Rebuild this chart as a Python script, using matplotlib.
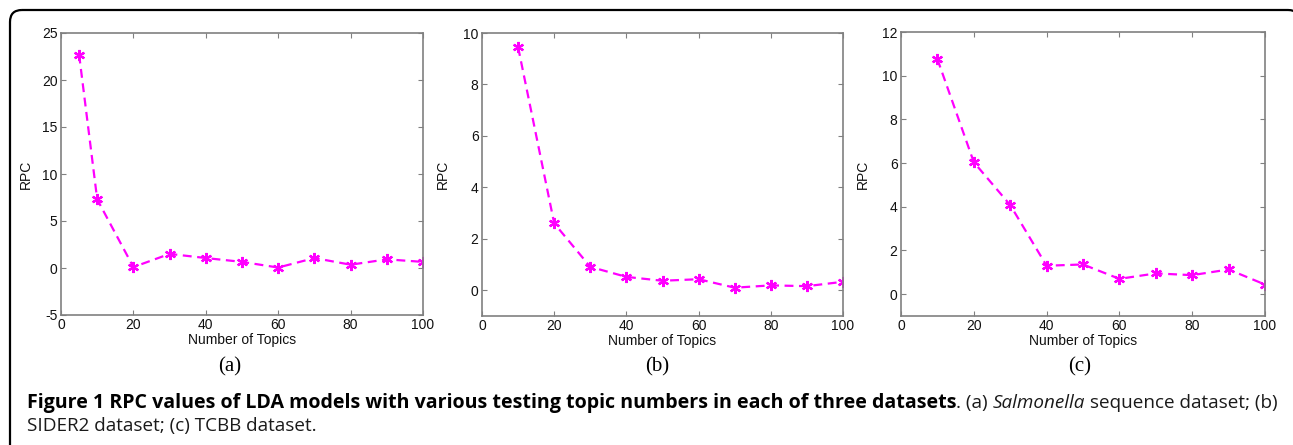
import matplotlib
matplotlib.use("Agg")
import matplotlib.pyplot as plt
from matplotlib.patches import FancyBboxPatch
from matplotlib.transforms import Affine2D

# ---- data ----
topics_a = [5, 10, 20, 30, 40, 50, 60, 70, 80, 90, 100]
rpc_a = [22.7, 7.3, 0.1, 1.5, 1.06, 0.65, 0.05, 1.06, 0.35, 0.92, 0.65]

topics_b = [10, 20, 30, 40, 50, 60, 70, 80, 90, 100]
rpc_b = [9.45, 2.6, 0.91, 0.52, 0.37, 0.43, 0.1, 0.19, 0.16, 0.33]

topics_c = [10, 20, 30, 40, 50, 60, 70, 80, 90, 100]
rpc_c = [10.76, 6.04, 4.08, 1.3, 1.36, 0.7, 0.95, 0.87, 1.13, 0.44]

xticks = [0, 20, 40, 60, 80, 100]
yticks_a = [-5, 0, 5, 10, 15, 20, 25]
yticks_b = [0, 2, 4, 6, 8, 10]
yticks_c = [0, 2, 4, 6, 8, 10, 12]
panel_labels = ["(a)", "(b)", "(c)"]

W, H = 1293, 445
fig = plt.figure(figsize=(W / 100, H / 100), dpi=100)
fig.patch.set_facecolor("white")

# pixel coordinate transform (origin top-left)
pix = Affine2D().scale(1, -1).translate(0, H).scale(1 / W, 1 / H) + fig.transFigure

def px(x0, y0, x1, y1):
    return [x0 / W, 1 - y1 / H, (x1 - x0) / W, (y1 - y0) / H]

panels = [
    (px(61, 33, 423, 315), topics_a, rpc_a, yticks_a, (-5, 25), 33),
    (px(482, 33, 843, 316), topics_b, rpc_b, yticks_b, (-1, 10), 450),
    (px(901, 32, 1265, 316), topics_c, rpc_c, yticks_c, (-1, 12), 870),
]
label_x = [230, 657, 1080]

font = "Liberation Sans"
for i, (rect, xs, ys, yt, ylim, ylab_x) in enumerate(panels):
    ax = fig.add_axes(rect)
    ax.plot(xs, ys, linestyle="--", color="#ff00ff", linewidth=1.6,
            dashes=(4, 2.5))
    ax.plot(xs, ys, linestyle="none", color="#ff00ff",
            marker=(6, 2, 0), markersize=8, markeredgewidth=1.6)
    ax.set_xlim(0, 100)
    ax.set_ylim(*ylim)
    ax.set_xticks(xticks)
    ax.set_yticks(yt)
    ax.set_xticklabels([str(t) for t in xticks], fontfamily=font, fontsize=10)
    ax.set_yticklabels([str(t) for t in yt], fontfamily=font, fontsize=10)
    ax.tick_params(direction="in", length=3.5, width=0.8, color="#808080",
                   top=True, right=True, pad=2.5, labelcolor="#111111")
    for s in ax.spines.values():
        s.set_color("#808080")
        s.set_linewidth(1.2)
    ax.set_xlabel("Number of Topics", fontfamily=font, fontsize=10, labelpad=0.5,
                  color="#111111")
    ax.set_ylabel("RPC", fontfamily=font, fontsize=10, color="#111111")
    ax.yaxis.set_label_coords((ylab_x - rect[0] * W) / (rect[2] * W), 0.5)
    fig.text(label_x[i] / W, 1 - 367 / H, panel_labels[i], ha="center", va="center",
             fontfamily="Liberation Serif", fontsize=15)

# border (rounded top corners, open at bottom, right side off-image)
border = FancyBboxPatch((10, 10), 1290, 600,
                        boxstyle="round,pad=0,rounding_size=12",
                        transform=pix, fill=False,
                        edgecolor="black", linewidth=1.6)
fig.add_artist(border)

# caption with mixed styles
cap_font = "Open Sans"
fs_bold = 14.1
fs_reg = 13.6
pieces1 = [
    ("Figure 1 RPC values of LDA models with various testing topic numbers in each of three datasets", "bold", "normal"),
    (". (a) ", "normal", "normal"),
    ("Salmonella", "normal", "italic"),
    (" sequence dataset; (b)", "normal", "normal"),
]
fig.canvas.draw()
renderer = fig.canvas.get_renderer()
x = 27
y1 = 1 - 403 / H
for s, w, st in pieces1:
    t = fig.text(x / W, y1, s, fontfamily=cap_font,
                 fontsize=fs_bold if w == "bold" else fs_reg, fontweight=w,
                 fontstyle=st, va="center", ha="left",
                 color="black" if w == "bold" else "#1a1a1a")
    bb = t.get_window_extent(renderer)
    x += bb.width
fig.text(27 / W, 1 - 426 / H, "SIDER2 dataset; (c) TCBB dataset.", fontfamily=cap_font,
         fontsize=fs_reg, va="center", ha="left", color="#1a1a1a")

fig.savefig("out.png", dpi=100)
